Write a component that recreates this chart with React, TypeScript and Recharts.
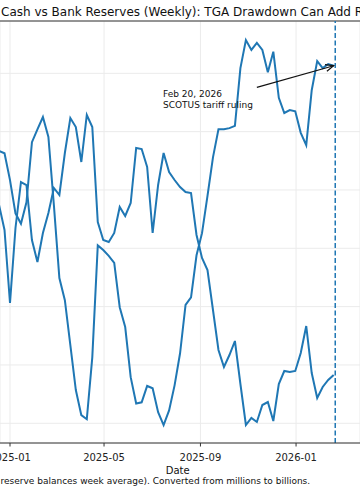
import { LineChart, Line, XAxis, YAxis, CartesianGrid, ReferenceLine } from 'recharts';

const DAY = 86400000;
// weekly (Wednesday) observations, first one 2024-12-11
const FIRST_WEEK = Date.UTC(2024, 11, 11);

// Treasury General Account cash, $bn
const tgaCash = [
  768, 767, 763, 717, 660, 642, 679, 782, 804, 825, 791, 674, 549, 511, 434, 357,
  314, 307, 413, 605, 597, 587, 575, 499, 465, 379, 334, 336, 364, 360, 319, 297,
  322, 365, 420, 503, 516, 588, 626, 690, 756, 804, 804, 806, 810, 909, 957, 940,
  952, 940, 902, 937, 858, 832, 837, 835, 798, 777, 871, 921, 909, 916, 913,
];

// Bank reserve balances, $bn
const bankReserves = [
  3290, 3270, 3220, 3074, 3224, 3316, 3310, 3200, 3156, 3214, 3254, 3304, 3290, 3374, 3444, 3426,
  3356, 3450, 3426, 3236, 3200, 3196, 3214, 3266, 3248, 3274, 3384, 3382, 3346, 3214, 3310, 3374,
  3336, 3320, 3306, 3296, 3294, 3210, 3164, 3140, 3060, 2980, 2946, 2970, 2998, 2912, 2830, 2844,
  2836, 2870, 2876, 2838, 2912, 2938, 2936, 2938, 2974, 3028, 2934, 2884, 2906, 2920, 2930,
];

const xTicks = [Date.UTC(2025, 0, 1), Date.UTC(2025, 4, 1), Date.UTC(2025, 8, 1), Date.UTC(2026, 0, 1)];
const tgaTicks = [300, 400, 500, 600, 700, 800, 900];

const X_DOMAIN = [Date.UTC(2025, 0, 1) - 12.76 * DAY, Date.UTC(2025, 0, 1) + 446.6 * DAY];
const TGA_DOMAIN = [266.2, 989.7];
const RES_DOMAIN = [2794, 3638];

const RULING_DATE = Date.UTC(2026, 1, 20);
const NOTE_ANCHOR = { date: Date.UTC(2025, 10, 12), tga: 876 };

const data = tgaCash.map((tga, i) => ({
  date: FIRST_WEEK + i * 7 * DAY,
  tga,
  reserves: bankReserves[i],
}));
const last = data[data.length - 1];

const fmtMonth = (t: number) => {
  const d = new Date(t);
  return d.getUTCFullYear() + '-' + String(d.getUTCMonth() + 1).padStart(2, '0');
};

const FONT = '"DejaVu Sans", sans-serif';
const BLUE = '#1f77b4';

function Arrow(props: any) {
  const { x1, y1, x2, y2 } = props;
  const a = Math.atan2(y2 - y1, x2 - x1);
  const len = 8, w = 3.5;
  const bx = x2 - len * Math.cos(a), by = y2 - len * Math.sin(a);
  const nx = -Math.sin(a) * w, ny = Math.cos(a) * w;
  return (
    <g>
      <line x1={x1} y1={y1} x2={x2} y2={y2} stroke="#111" strokeWidth={1.2} />
      <polyline
        points={`${bx + nx},${by + ny} ${x2},${y2} ${bx - nx},${by - ny}`}
        fill="none" stroke="#111" strokeWidth={1.2}
      />
    </g>
  );
}

export default function App() {
  return (
    <div style={{ position: 'absolute', left: 0, top: 0, width: 360, height: 504, overflow: 'hidden', background: '#fff' }}>
      <LineChart width={360} height={504} data={data} margin={{ top: 21, right: 0, bottom: 31, left: 0 }}>
        <CartesianGrid yAxisId="left" stroke="#ebebeb" strokeWidth={1} />
        <XAxis
          dataKey="date" type="number" domain={X_DOMAIN} allowDataOverflow
          ticks={xTicks} interval={0} tickFormatter={fmtMonth}
          height={30} tickSize={3.5} tickMargin={7}
          stroke="#333" tick={{ fontSize: 10, fill: '#222', fontFamily: FONT }}
        />
        <YAxis yAxisId="left" hide type="number" domain={TGA_DOMAIN} ticks={tgaTicks} allowDataOverflow />
        <YAxis yAxisId="right" orientation="right" hide type="number" domain={RES_DOMAIN} allowDataOverflow />
        <ReferenceLine yAxisId="left" y={TGA_DOMAIN[1]} stroke="#333" strokeWidth={1} />
        <Line yAxisId="left" type="linear" dataKey="tga" stroke={BLUE} strokeWidth={2} dot={false} isAnimationActive={false} />
        <Line yAxisId="right" type="linear" dataKey="reserves" stroke={BLUE} strokeWidth={2} dot={false} isAnimationActive={false} />
        <ReferenceLine yAxisId="left" x={RULING_DATE} stroke={BLUE} strokeWidth={1.5} strokeDasharray="5 2.5" />
        <ReferenceLine
          yAxisId="left"
          segment={[{ x: NOTE_ANCHOR.date, y: NOTE_ANCHOR.tga }, { x: last.date, y: last.tga }]}
          shape={Arrow}
        />
      </LineChart>
      <svg width={360} height={504} style={{ position: 'absolute', left: 0, top: 0, pointerEvents: 'none' }} fontFamily={FONT}>
        <text x={1} y={15.5} fontSize={12} fill="#111">Cash vs Bank Reserves (Weekly): TGA Drawdown Can Add Reserves</text>
        <text x={163} y={97.3} fontSize={9} fill="#111">Feb 20, 2026</text>
        <text x={163} y={108.3} fontSize={9} fill="#111">SCOTUS tariff ruling</text>
        <text x={177.7} y={474} fontSize={10} fill="#111" textAnchor="middle">Date</text>
        <text x={0.5} y={484} fontSize={9} fill="#111">reserve balances week average). Converted from millions to billions.</text>
      </svg>
    </div>
  );
}
